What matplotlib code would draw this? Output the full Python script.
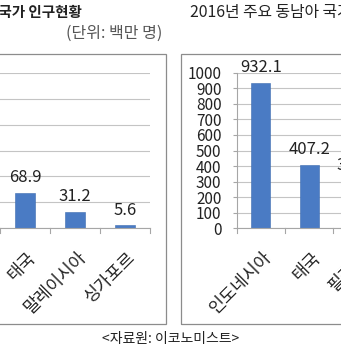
import matplotlib
matplotlib.use("Agg")
import matplotlib.pyplot as plt
from matplotlib.patches import Rectangle
from matplotlib.transforms import ScaledTranslation

plt.rcParams['font.family'] = ['Noto Sans CJK KR', 'DejaVu Sans']

# Population (millions)
pop_categories = ['태국', '말레이시아', '싱가포르']
pop_values = [68.9, 31.2, 5.6]
pop_ticks = [0, 50, 100, 150, 200, 250, 300]

# Second panel values
gdp_categories = ['인도네시아', '태국', '필리핀']
gdp_values = [932.1, 407.2, 304.9]
gdp_ticks = list(range(0, 1001, 100))

W, H = 341, 354
BAR = '#4a7bc4'
GRID = '#c4c4c4'
AXIS = '#a6a6a6'
TEXT = '#222222'

fig = plt.figure(figsize=(W / 100, H / 100), dpi=100)


def rect(x0, x1, ytop, ybot):
    return [x0 / W, 1 - ybot / H, (x1 - x0) / W, (ybot - ytop) / H]


def style_axes(ax, ymax, ticks, show_left):
    ax.set_ylim(0, ymax)
    ax.set_yticks(ticks)
    ax.grid(axis='y', color=GRID, linewidth=0.8)
    ax.set_axisbelow(True)
    for s in ('top', 'right'):
        ax.spines[s].set_visible(False)
    ax.spines['bottom'].set_color(AXIS)
    ax.spines['left'].set_color(AXIS)
    ax.spines['left'].set_visible(show_left)
    ax.tick_params(axis='y', length=3 if show_left else 0, color=AXIS,
                   labelsize=11, labelcolor=TEXT, pad=8)
    ax.set_xticks([])
    ax.set_facecolor('none')


def draw_bars(ax, cats, vals, slots):
    xs = list(range(len(cats)))
    ax.bar(xs, vals, width=0.39, color=BAR, edgecolor='#3d6cb0', linewidth=0.4)
    ax.set_xlim(slots[0], slots[1])
    # category boundary tick marks below the axis
    trans_x = ax.get_xaxis_transform()
    for b in range(int(slots[0] + 0.5), int(slots[1] + 0.5) + 1):
        ax.plot([b - 0.5, b - 0.5], [0, -5 / ax.bbox.height], transform=trans_x,
                color=AXIS, linewidth=0.8, clip_on=False)
    off = ScaledTranslation(2 / 100, -20 / 100, fig.dpi_scale_trans)
    for x, v, c in zip(xs, vals, cats):
        ax.annotate(f'{v:.1f}', (x, v), xytext=(0, 11), textcoords='offset points',
                    ha='center', va='center', fontsize=12, color=TEXT,
                    annotation_clip=False)
        ax.text(x, 0, c, transform=trans_x + off, rotation=45, ha='right',
                va='top', rotation_mode='anchor', fontsize=12.5, color=TEXT,
                clip_on=False)


# first panel
ax1 = fig.add_axes(rect(-150, 150, 72.7, 228.3))
style_axes(ax1, 300, pop_ticks, False)
ax1.set_yticklabels([])
draw_bars(ax1, pop_categories, pop_values, (-3.5, 2.5))

# second panel
ax2 = fig.add_axes(rect(236.7, 236.7 + 6 * 48.3, 72.7, 228.3))
style_axes(ax2, 1000, gdp_ticks, True)
draw_bars(ax2, gdp_categories, gdp_values, (-0.5, 5.5))

# chart frames
for x0, x1 in ((-20, 165.5), (180.8, 400)):
    fig.patches.append(Rectangle((x0 / W, 1 - 324 / H), (x1 - x0) / W, (324 - 53.8) / H,
                                 transform=fig.transFigure, fill=False,
                                 edgecolor='#8c8c8c', linewidth=0.9))

fig.text(82 / W, 1 - 12 / H, '2016년 주요 동남아 국가 인구현황', ha='right', va='center',
         fontsize=10.5, fontweight='bold', color=TEXT)
fig.text(162 / W, 1 - 33 / H, '(단위: 백만 명)', ha='right', va='center',
         fontsize=11.5, color='#555555')
fig.text(190 / W, 1 - 13 / H, '2016년 주요 동남아 국가 GDP 현황', ha='left', va='center',
         fontsize=11.4, color=TEXT)
fig.text(171 / W, 1 - 339.5 / H, '<자료원: 이코노미스트>', ha='center', va='center',
         fontsize=10, color=TEXT)

fig.savefig('out.png', dpi=100, facecolor='white')
